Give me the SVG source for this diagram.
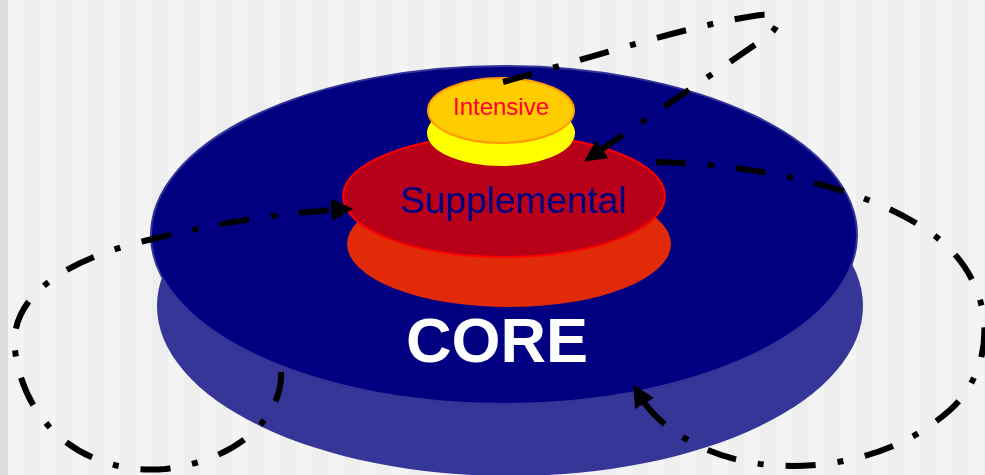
<svg xmlns="http://www.w3.org/2000/svg" width="985" height="475" viewBox="0 0 985 475">
<defs>
<pattern id="stripes" x="8" y="0" width="32" height="475" patternUnits="userSpaceOnUse">
<rect x="0" y="0" width="16" height="475" fill="#F4F4F4"/>
<rect x="16" y="0" width="16" height="475" fill="#EEEEEE"/>
</pattern>
<marker id="arrow" markerUnits="userSpaceOnUse" markerWidth="22" markerHeight="22" viewBox="0 0 20 20" refX="8" refY="10" orient="auto">
<path d="M0,0 L20,10 L0,20 z" fill="#000000"/>
</marker>
<style>
.flow{fill:none;stroke:#000000;stroke-width:6;stroke-dasharray:30 22 6 22;marker-end:url(#arrow)}
.lbl{font-family:"Liberation Sans",Arial,sans-serif;text-anchor:middle}
</style>
</defs>
<rect x="0" y="0" width="985" height="475" fill="url(#stripes)"/>
<rect x="0" y="0" width="8" height="475" fill="#DDDDDD"/>
<g id="core">
<ellipse cx="510" cy="306" rx="353" ry="170" fill="#363699"/>
<ellipse cx="504" cy="235" rx="353" ry="169" fill="#000080" stroke="#333399" stroke-width="2"/>
<text class="lbl" x="497" y="362" font-size="63" font-weight="bold" fill="#FFFFFF">CORE</text>
</g>
<g id="supplemental">
<ellipse cx="509" cy="244" rx="162" ry="63" fill="#E12A07"/>
<ellipse cx="504" cy="196" rx="161" ry="61" fill="#B80018" stroke="#FF0000" stroke-width="2"/>
<text class="lbl" x="513" y="213" font-size="37" fill="#000080">Supplemental</text>
</g>
<g id="intensive">
<ellipse cx="501" cy="133" rx="74" ry="33" fill="#FFFF00"/>
<ellipse cx="501" cy="110.5" rx="73" ry="32.5" fill="#FFCC00" stroke="#FF9900" stroke-width="2"/>
<text class="lbl" x="501" y="115" font-size="24" fill="#FF0033">Intensive</text>
</g>
<g id="connectors">
<path class="flow" d="M281,372 C283,415 240,460 165,469 C90,475 25,430 15,350 C8,290 80,255 153,239 C220,222 290,212 340,209.5"/>
<path class="flow" d="M503,82 C600,55 690,25 760,15 C785,12 780,28 765,38 L595,154"/>
<path class="flow" d="M656,162 C760,164 880,190 940,240 C1000,290 995,370 950,410 C900,455 830,470 770,465 C710,460 660,430 640,396"/>
</g>
</svg>
